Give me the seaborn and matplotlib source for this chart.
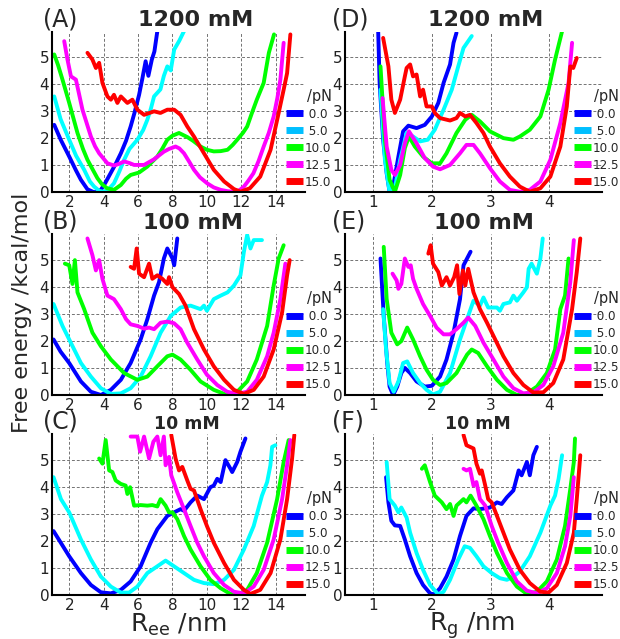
""" Free energy profiles vs end-to-end distance and radius of gyration
"""

import numpy as np
import pandas as pd
import matplotlib
matplotlib.use('Agg')
import matplotlib.pyplot as plt
from matplotlib.lines import Line2D
import seaborn as sns

# ---- data: (x, free energy), one list per force ----
forces = ['0.0', '5.0', '10.0', '12.5', '15.0']
line_colors = ['#0000ff', '#00ffff', '#00ff00', '#ff00ff', '#ff0000']
legend_colors = ['#0000ff', '#00bfff', '#00ff00', '#ff00ff', '#ff0000']
ree_ticks = [2, 4, 6, 8, 10, 12, 14]
rg_ticks = [1, 2, 3, 4]

# (A) Ree, 1200 mM
A_00 = [(1.13, 2.49), (1.5, 1.95), (2.0, 1.32), (2.4, 0.8), (2.68, 0.46), (3.06, 0.11),
        (3.45, 0.0), (3.84, 0.09), (4.1, 0.35), (4.4, 0.7), (4.7, 1.05), (5.0, 1.44),
        (5.3, 1.9), (5.57, 2.43), (5.8, 2.95), (6.06, 3.6), (6.25, 4.2), (6.44, 4.84),
        (6.6, 4.3), (6.8, 4.9), (6.95, 5.2), (7.12, 5.95)]
A_05 = [(1.13, 3.54), (1.5, 2.7), (2.0, 1.94), (2.4, 1.35), (2.87, 0.83), (3.2, 0.4),
        (3.45, 0.21), (3.75, 0.05), (4.03, 0.02), (4.3, 0.12), (4.6, 0.33), (4.9, 0.75),
        (5.19, 1.2), (5.5, 1.6), (5.96, 1.94), (6.3, 2.3), (6.54, 2.68), (6.75, 3.1),
        (6.93, 3.54), (7.3, 3.8), (7.5, 4.3), (7.7, 4.65), (7.9, 4.5), (8.1, 5.27),
        (8.4, 5.6), (8.67, 5.95)]
A_10 = [(1.13, 5.09), (1.35, 4.7), (1.61, 4.16), (2.0, 3.3), (2.48, 2.19), (2.8, 1.6),
        (3.06, 1.2), (3.4, 0.8), (3.64, 0.52), (3.9, 0.3), (4.2, 0.15), (4.6, 0.09),
        (5.0, 0.27), (5.3, 0.5), (5.57, 0.64), (6.06, 0.73), (6.54, 0.95), (7.12, 1.32),
        (7.4, 1.6), (7.7, 1.94), (8.0, 2.09), (8.38, 2.19), (8.86, 2.04), (9.2, 1.9),
        (9.63, 1.69), (10.0, 1.57), (10.4, 1.51), (10.8, 1.52), (11.2, 1.57), (11.5, 1.75),
        (11.76, 1.94), (12.1, 2.2), (12.34, 2.43), (12.6, 2.9), (12.9, 3.42), (13.3, 4.04),
        (13.45, 4.6), (13.6, 5.15), (13.9, 5.83)]
A_125 = [(1.71, 5.58), (1.9, 4.9), (2.1, 4.28), (2.39, 4.16), (2.77, 3.05), (3.26, 2.06),
         (3.5, 1.7), (3.74, 1.44), (4.22, 1.07), (4.6, 0.99), (4.9, 1.05), (5.19, 1.14),
         (5.5, 1.08), (5.77, 1.01), (6.35, 1.01), (6.93, 1.22), (7.5, 1.5), (7.8, 1.6),
         (8.18, 1.69), (8.4, 1.62), (8.67, 1.44), (9.0, 1.1), (9.25, 0.83), (9.6, 0.55),
         (10.02, 0.33), (10.4, 0.18), (10.8, 0.09), (11.2, 0.04), (11.57, 0.02), (11.9, 0.08),
         (12.15, 0.21), (12.4, 0.42), (12.7, 0.7), (13.0, 1.15), (13.3, 1.69), (13.6, 2.2),
         (13.88, 2.8), (14.1, 3.5), (14.27, 4.16), (14.46, 5.52)]
A_15 = [(3.06, 5.15), (3.35, 4.9), (3.55, 4.59), (3.74, 4.78), (3.93, 4.04), (4.22, 3.54),
        (4.42, 3.42), (4.6, 3.6), (4.8, 3.3), (5.0, 3.54), (5.38, 3.3), (5.67, 3.42),
        (5.96, 3.05), (6.35, 2.86), (6.93, 2.99), (7.3, 2.93), (7.7, 3.05), (8.1, 3.05),
        (8.47, 2.86), (8.86, 2.43), (9.25, 2.06), (9.83, 1.44), (10.4, 0.83), (11.0, 0.4),
        (11.57, 0.12), (11.95, 0.02), (12.5, 0.15), (13.1, 0.58), (13.7, 1.57), (14.17, 2.93),
        (14.46, 3.79), (14.66, 4.4), (14.85, 5.83)]

# (B) Ree, 100 mM
B_00 = [(1.09, 2.05), (1.5, 1.6), (2.0, 1.18), (2.68, 0.5), (3.26, 0.12), (3.84, 0.0),
        (4.42, 0.19), (5.0, 0.56), (5.57, 1.18), (6.15, 2.05), (6.54, 2.8), (6.93, 3.67),
        (7.22, 4.17), (7.5, 5.04), (7.7, 5.41), (8.0, 5.04), (8.1, 4.79), (8.28, 5.78)]
B_05 = [(1.09, 3.36), (1.61, 2.55), (2.0, 2.05), (2.68, 1.18), (3.26, 0.68), (3.84, 0.25),
        (4.42, 0.04), (5.0, 0.06), (5.57, 0.25), (6.15, 0.68), (6.73, 1.43), (7.31, 2.3),
        (7.9, 2.92), (8.47, 3.23), (9.05, 3.3), (9.63, 3.17), (9.83, 3.3), (10.0, 3.11),
        (10.4, 3.54), (10.8, 3.67), (11.2, 3.79), (11.57, 4.04), (11.95, 4.42), (12.15, 5.29),
        (12.34, 5.91), (12.53, 5.41), (12.72, 5.72), (13.2, 5.72)]
B_10 = [(1.75, 4.85), (2.0, 4.79), (2.19, 4.1), (2.33, 4.98), (2.48, 3.79), (2.87, 3.17),
        (3.35, 2.3), (3.84, 1.8), (4.42, 1.31), (5.19, 0.81), (5.96, 0.56), (6.54, 0.68),
        (7.12, 1.06), (7.7, 1.43), (8.0, 1.49), (8.47, 1.31), (9.05, 0.93), (9.63, 0.5),
        (10.4, 0.19), (11.18, 0.0), (11.76, 0.12), (12.34, 0.5), (12.9, 1.31), (13.5, 2.55),
        (13.88, 4.04), (14.17, 5.04), (14.46, 5.53)]
B_125 = [(3.06, 5.78), (3.35, 5.16), (3.55, 4.6), (3.74, 4.98), (3.93, 4.29), (4.22, 3.67),
         (4.6, 3.54), (5.0, 3.17), (5.3, 2.8), (5.57, 2.61), (5.96, 2.55), (6.35, 2.45),
         (6.64, 2.49), (6.93, 2.43), (7.31, 2.67), (7.7, 2.71), (8.09, 2.65), (8.47, 2.43),
         (8.86, 1.93), (9.44, 1.31), (10.0, 0.75), (10.6, 0.37), (11.18, 0.12), (11.76, 0.04),
         (12.34, 0.12), (12.9, 0.56), (13.5, 1.43), (13.88, 2.3), (14.27, 3.54), (14.56, 4.85)]
B_15 = [(5.57, 4.73), (5.77, 4.66), (5.92, 5.41), (6.06, 4.48), (6.35, 4.35), (6.64, 4.85),
        (6.83, 4.29), (7.12, 4.42), (7.41, 4.29), (7.7, 4.1), (7.8, 4.35), (8.0, 3.98),
        (8.38, 3.73), (8.76, 3.3), (9.25, 2.43), (9.83, 1.68), (10.4, 1.06), (11.0, 0.56),
        (11.57, 0.19), (12.15, 0.04), (12.72, 0.19), (13.3, 0.68), (13.88, 1.68), (14.37, 3.05),
        (14.66, 4.42), (14.81, 4.98)]

# (C) Ree, 10 mM
C_00 = [(1.09, 2.36), (2.0, 1.43), (2.68, 0.81), (3.26, 0.37), (3.84, 0.1), (4.42, 0.06),
        (5.0, 0.19), (5.57, 0.5), (6.15, 1.06), (6.73, 1.93), (7.12, 2.43), (7.7, 2.92),
        (8.09, 3.05), (8.47, 3.17), (8.67, 3.11), (9.05, 3.42), (9.44, 3.67), (9.83, 3.54),
        (10.2, 3.98), (10.4, 4.04), (10.6, 4.29), (10.8, 4.17), (11.08, 4.98), (11.37, 4.66),
        (11.47, 4.54), (11.76, 4.91), (11.95, 5.29), (12.24, 5.78)]
C_05 = [(1.09, 4.35), (1.52, 3.54), (2.0, 3.05), (2.68, 2.05), (3.26, 1.31), (3.84, 0.68),
        (4.42, 0.31), (5.0, 0.09), (5.48, 0.09), (5.96, 0.31), (6.54, 0.81), (7.12, 1.06),
        (7.6, 1.27), (8.09, 1.06), (8.67, 0.81), (9.25, 0.56), (9.83, 0.44), (10.4, 0.4),
        (11.0, 0.56), (11.57, 0.93), (12.15, 1.68), (12.72, 2.55), (13.2, 3.67), (13.5, 4.17),
        (13.69, 4.79), (13.79, 5.47), (13.98, 5.53)]
C_10 = [(3.74, 5.04), (3.93, 4.85), (4.12, 5.72), (4.32, 4.6), (4.51, 4.54), (4.7, 4.23),
        (5.0, 4.1), (5.28, 4.04), (5.38, 3.73), (5.54, 3.98), (5.77, 3.3), (6.15, 3.32),
        (6.54, 3.3), (6.83, 3.32), (7.12, 3.27), (7.31, 3.54), (7.6, 3.3), (7.8, 3.05),
        (8.0, 3.05), (8.28, 2.8), (8.67, 2.18), (9.05, 1.68), (9.63, 1.06), (10.2, 0.56),
        (10.8, 0.25), (11.37, 0.04), (11.95, 0.06), (12.34, 0.19), (12.9, 0.81), (13.5, 1.93),
        (14.08, 3.54), (14.46, 4.91), (14.75, 5.72)]
C_125 = [(5.57, 5.85), (5.96, 5.85), (6.12, 5.29), (6.35, 5.85), (6.64, 5.04), (6.89, 5.66),
         (7.12, 5.85), (7.31, 5.16), (7.5, 5.85), (7.6, 4.79), (7.8, 5.1), (7.93, 4.42),
         (8.28, 3.79), (8.67, 3.17), (9.05, 2.55), (9.44, 1.93), (9.83, 1.43), (10.4, 0.81),
         (11.0, 0.37), (11.57, 0.12), (12.15, 0.06), (12.72, 0.31), (13.3, 0.93), (13.88, 2.05),
         (14.37, 3.54), (14.66, 4.79), (14.85, 5.72)]
C_15 = [(7.93, 5.91), (8.18, 5.04), (8.38, 4.6), (8.57, 4.73), (8.86, 4.23), (9.05, 3.92),
        (9.25, 3.86), (9.63, 3.17), (10.0, 2.55), (10.4, 1.93), (11.0, 1.18), (11.57, 0.56),
        (12.15, 0.19), (12.53, 0.04), (13.1, 0.19), (13.7, 0.81), (14.27, 2.05), (14.66, 3.54),
        (14.95, 5.04), (15.08, 5.91)]

# (D) Rg, 1200 mM
D_00 = [(1.085, 6.0), (1.11, 4.04), (1.17, 1.94), (1.23, 0.7), (1.28, 0.02), (1.34, 0.21),
        (1.43, 1.32), (1.51, 2.25), (1.6, 2.46), (1.74, 2.37), (1.88, 2.49), (2.0, 2.8),
        (2.11, 3.3), (2.2, 4.04), (2.31, 4.72), (2.37, 5.52), (2.42, 5.89)]
D_05 = [(1.125, 3.79), (1.2, 1.2), (1.28, 0.0), (1.37, 0.15), (1.46, 1.2), (1.57, 2.19),
        (1.68, 2.06), (1.8, 1.88), (1.93, 1.94), (2.05, 2.31), (2.2, 3.05), (2.34, 3.79),
        (2.45, 4.65), (2.54, 5.33), (2.68, 5.77)]
D_10 = [(1.125, 4.65), (1.2, 1.94), (1.28, 0.46), (1.37, 0.02), (1.46, 0.64), (1.54, 1.63),
        (1.61, 2.06), (1.71, 1.69), (1.85, 1.32), (2.0, 1.07), (2.14, 1.07), (2.25, 1.44),
        (2.42, 2.19), (2.57, 2.68), (2.68, 2.86), (2.82, 2.62), (2.99, 2.25), (3.22, 2.0),
        (3.39, 1.94), (3.5, 2.06), (3.67, 2.31), (3.85, 2.8), (3.99, 3.79), (4.1, 4.9),
        (4.22, 5.95)]
D_125 = [(1.16, 3.48), (1.23, 1.69), (1.31, 0.83), (1.37, 0.64), (1.46, 1.01), (1.54, 1.81),
         (1.61, 2.25), (1.74, 1.81), (1.88, 1.26), (2.02, 0.95), (2.14, 0.85), (2.31, 1.01),
         (2.48, 1.44), (2.59, 1.75), (2.71, 1.75), (2.82, 1.44), (2.99, 0.89), (3.16, 0.4),
         (3.33, 0.09), (3.5, 0.02), (3.67, 0.09), (3.85, 0.4), (4.02, 1.2), (4.19, 2.56),
         (4.33, 4.04), (4.39, 5.52)]
D_15 = [(1.17, 5.7), (1.26, 4.65), (1.31, 3.42), (1.37, 2.93), (1.46, 3.42), (1.54, 4.28),
        (1.57, 4.59), (1.63, 4.72), (1.68, 4.28), (1.74, 4.35), (1.8, 3.54), (1.85, 3.79),
        (1.91, 3.17), (2.0, 3.17), (2.05, 2.93), (2.14, 2.74), (2.31, 2.65), (2.42, 2.74),
        (2.48, 2.93), (2.57, 2.8), (2.65, 2.86), (2.76, 2.56), (2.88, 2.19), (2.99, 1.69),
        (3.16, 1.07), (3.33, 0.58), (3.5, 0.21), (3.67, 0.02), (3.85, 0.15), (4.02, 0.58),
        (4.19, 1.69), (4.3, 3.17), (4.36, 4.65), (4.41, 4.59), (4.47, 4.96)]

# (E) Rg, 100 mM
E_00 = [(1.125, 5.04), (1.18, 2.92), (1.24, 1.18), (1.28, 0.31), (1.34, 0.0), (1.41, 0.31),
        (1.48, 0.81), (1.54, 1.0), (1.63, 0.81), (1.74, 0.5), (1.88, 0.31), (2.0, 0.34),
        (2.14, 0.68), (2.25, 1.31), (2.37, 2.3), (2.48, 3.54), (2.54, 4.79), (2.6, 5.04),
        (2.66, 5.29)]
E_05 = [(1.17, 3.17), (1.22, 1.68), (1.28, 0.44), (1.35, 0.12), (1.43, 0.5), (1.51, 1.18),
        (1.58, 1.24), (1.68, 0.81), (1.8, 0.44), (1.91, 0.19), (2.02, 0.02), (2.14, 0.12),
        (2.31, 0.81), (2.48, 2.05), (2.6, 2.8), (2.71, 3.48), (2.82, 3.3), (2.88, 3.6),
        (2.96, 3.23), (3.11, 3.23), (3.16, 3.11), (3.22, 3.36), (3.33, 3.42), (3.39, 3.67),
        (3.45, 3.48), (3.56, 3.79), (3.62, 3.98), (3.65, 4.66), (3.7, 4.85), (3.79, 4.48),
        (3.85, 5.04), (3.89, 5.78)]
E_10 = [(1.18, 5.47), (1.23, 3.54), (1.31, 2.3), (1.41, 1.87), (1.48, 1.99), (1.58, 2.49),
        (1.68, 2.05), (1.8, 1.43), (1.91, 0.93), (2.02, 0.56), (2.14, 0.37), (2.25, 0.44),
        (2.42, 0.81), (2.6, 1.49), (2.68, 1.68), (2.79, 1.55), (2.94, 1.06), (3.11, 0.56),
        (3.28, 0.19), (3.45, 0.0), (3.62, 0.06), (3.79, 0.31), (3.96, 0.81), (4.1, 1.68),
        (4.19, 3.17), (4.27, 3.67), (4.33, 5.04)]
E_125 = [(1.33, 4.48), (1.4, 4.23), (1.43, 3.92), (1.48, 4.1), (1.54, 5.04), (1.6, 4.73),
         (1.64, 4.79), (1.68, 4.29), (1.74, 3.92), (1.85, 3.36), (1.97, 2.92), (2.08, 2.49),
         (2.2, 2.24), (2.31, 2.24), (2.42, 2.43), (2.54, 2.67), (2.62, 2.86), (2.74, 2.55),
         (2.88, 1.93), (3.05, 1.31), (3.22, 0.68), (3.39, 0.25), (3.56, 0.06), (3.73, 0.09),
         (3.9, 0.37), (4.07, 1.06), (4.24, 2.3), (4.36, 4.17), (4.42, 5.72)]
E_15 = [(1.94, 5.22), (1.98, 5.53), (2.02, 4.85), (2.11, 4.54), (2.17, 4.04), (2.25, 4.35),
        (2.31, 4.04), (2.38, 4.35), (2.43, 4.79), (2.47, 3.73), (2.53, 4.6), (2.57, 4.04),
        (2.62, 4.66), (2.71, 3.79), (2.82, 3.17), (2.94, 2.67), (3.08, 2.05), (3.22, 1.43),
        (3.39, 0.81), (3.56, 0.37), (3.73, 0.09), (3.9, 0.1), (4.07, 0.44), (4.24, 1.31),
        (4.39, 3.17), (4.47, 4.54), (4.53, 5.78)]

# (F) Rg, 10 mM
F_00 = [(1.22, 4.35), (1.26, 3.42), (1.31, 2.74), (1.37, 2.57), (1.46, 2.55), (1.54, 2.05),
        (1.63, 1.43), (1.74, 0.81), (1.85, 0.37), (1.97, 0.06), (2.04, 0.02), (2.14, 0.25),
        (2.25, 0.68), (2.37, 1.31), (2.48, 2.18), (2.59, 2.92), (2.71, 3.2), (2.82, 3.17),
        (2.99, 3.23), (3.11, 3.42), (3.19, 3.36), (3.28, 3.61), (3.39, 3.86), (3.48, 4.6),
        (3.53, 4.42), (3.62, 4.91), (3.67, 4.42), (3.73, 5.16), (3.79, 5.47)]
F_05 = [(1.23, 4.91), (1.28, 3.54), (1.37, 3.3), (1.43, 3.05), (1.48, 3.23), (1.57, 2.86),
        (1.63, 2.3), (1.74, 1.55), (1.85, 0.93), (1.97, 0.37), (2.11, 0.02), (2.2, 0.12),
        (2.31, 0.56), (2.45, 1.31), (2.56, 1.8), (2.65, 1.74), (2.76, 1.43), (2.88, 1.06),
        (3.02, 0.81), (3.16, 0.62), (3.28, 0.56), (3.39, 0.68), (3.5, 0.87), (3.67, 1.43),
        (3.85, 2.3), (4.02, 3.3), (4.1, 3.67), (4.16, 4.29), (4.22, 5.16)]
F_10 = [(1.83, 4.66), (1.88, 4.79), (1.97, 4.17), (2.05, 3.67), (2.17, 3.42), (2.25, 3.17),
        (2.31, 3.36), (2.37, 2.92), (2.42, 3.3), (2.54, 3.54), (2.59, 3.42), (2.66, 3.67),
        (2.76, 3.3), (2.88, 2.8), (2.99, 2.18), (3.11, 1.55), (3.28, 0.81), (3.45, 0.31),
        (3.62, 0.04), (3.79, 0.12), (3.96, 0.5), (4.13, 1.31), (4.27, 2.55), (4.36, 3.92),
        (4.42, 4.91), (4.44, 5.78)]
F_125 = [(2.54, 4.66), (2.59, 4.6), (2.65, 4.66), (2.71, 4.04), (2.76, 4.17), (2.82, 3.54),
         (2.91, 3.3), (3.02, 2.55), (3.13, 1.93), (3.28, 1.18), (3.45, 0.5), (3.62, 0.16),
         (3.79, 0.06), (3.96, 0.25), (4.13, 0.81), (4.27, 1.8), (4.36, 2.92), (4.42, 4.35)]
F_15 = [(2.54, 5.91), (2.59, 5.53), (2.65, 5.47), (2.71, 5.41), (2.76, 4.85), (2.82, 4.48),
        (2.85, 4.6), (2.91, 4.04), (2.96, 3.54), (3.02, 3.42), (3.11, 2.92), (3.22, 2.3),
        (3.33, 1.68), (3.5, 0.93), (3.67, 0.44), (3.85, 0.12), (3.99, 0.09), (4.13, 0.37),
        (4.3, 1.18), (4.42, 2.3), (4.47, 3.54), (4.53, 5.16)]

panels = {
    'A': ([A_00, A_05, A_10, A_125, A_15], '1200 mM'),
    'B': ([B_00, B_05, B_10, B_125, B_15], '100 mM'),
    'C': ([C_00, C_05, C_10, C_125, C_15], '10 mM'),
    'D': ([D_00, D_05, D_10, D_125, D_15], '1200 mM'),
    'E': ([E_00, E_05, E_10, E_125, E_15], '100 mM'),
    'F': ([F_00, F_05, F_10, F_125, F_15], '10 mM'),
}


def to_frame(curves):
    rows = []
    for f, pts in zip(forces, curves):
        for x, y in pts:
            rows.append({'x': x, 'F': y, 'force': f})
    return pd.DataFrame(rows)


if __name__ == '__main__':

    sns.set_style('white')
    plt.rcParams['font.family'] = ['DejaVu Sans']

    fig = plt.figure(figsize=(6.2, 6.39), dpi=100)

    W, H = 620., 639.
    lefts = [52 / W, 345 / W]
    widths = [253 / W, 257 / W]
    bottoms = [1 - 192.3 / H, 1 - 395 / H, 1 - 595 / H]
    height = 160.6 / H

    layout = {'A': (0, 0), 'B': (0, 1), 'C': (0, 2),
              'D': (1, 0), 'E': (1, 1), 'F': (1, 2)}
    # title centre (axes frac) and size
    title_x = {'A': 0.569, 'B': 0.557, 'C': 0.534,
               'D': 0.549, 'E': 0.541, 'F': 0.517}
    title_fs = {'A': 16, 'B': 16, 'C': 12.5, 'D': 16, 'E': 16, 'F': 12.5}

    pal = dict(zip(forces, line_colors))

    for key, (curves, conc) in panels.items():
        col, row = layout[key]
        ax = fig.add_axes([lefts[col], bottoms[row], widths[col], height])
        df = to_frame(curves)
        sns.lineplot(data=df, x='x', y='F', hue='force', palette=pal,
                     hue_order=forces, sort=False, estimator=None,
                     lw=2.8, legend=False, ax=ax)

        xt = ree_ticks if col == 0 else rg_ticks
        ax.set_xticks(xt)
        if col == 0:
            ax.set_xlim(1, 15.7)
        else:
            ax.set_xlim(0.52, 4.9)
        ax.set_yticks([0, 1, 2, 3, 4, 5])
        ax.set_ylim(0, 5.93)
        ax.set_xlabel('')
        ax.set_ylabel('')
        ax.grid(True, ls=(0, (3, 2)), color='0.45', lw=0.7)
        for s in ['top', 'right']:
            ax.spines[s].set_visible(False)
        for s in ['left', 'bottom']:
            ax.spines[s].set_color('black')
            ax.spines[s].set_linewidth(1.5)
        ax.tick_params(length=0, pad=2, labelsize=11, labelcolor='#222222',
                       labelbottom=False)
        # x tick labels as figure-level text, drawn above every axes
        for v in xt:
            fig.text(v, -0.018, str(v), transform=ax.get_xaxis_transform(),
                     fontsize=11, color='#222222', ha='center', va='top',
                     zorder=20, clip_on=False)

        lx = -0.036 if col == 0 else -0.05
        ax.text(lx, 1.035, '(%s)' % key, transform=ax.transAxes,
                fontsize=17, va='baseline')
        ax.text(title_x[key], 1.035, conc, transform=ax.transAxes,
                fontsize=title_fs[key], fontweight='bold',
                va='baseline', ha='center')

        handles = [Line2D([], [], color=c, lw=5, solid_capstyle='butt')
                   for c in legend_colors]
        labels = [' 0.0', ' 5.0', '10.0', '12.5', '15.0']
        bx = 0.925 if col == 0 else 0.89
        leg = ax.legend(handles, labels, title='/pN', loc='upper left',
                        bbox_to_anchor=(bx, 0.645), frameon=False,
                        prop={'size': 9.5, 'stretch': 'condensed'},
                        title_fontsize=10.5,
                        handlelength=1.3, handletextpad=0.15,
                        labelspacing=0.3, borderpad=0, borderaxespad=0)
        leg._legend_box.align = 'right'

        if key == 'C':
            ax.text(0.5, -0.228, r'R$_{\mathrm{ee}}$ /nm', transform=ax.transAxes,
                    fontsize=18, ha='center', va='baseline')
        if key == 'F':
            ax.text(0.494, -0.22, r'R$_{\mathrm{g}}$ /nm', transform=ax.transAxes,
                    fontsize=18, ha='center', va='baseline')

    fig.text(0.035, 0.51, 'Free energy /kcal/mol', rotation=90,
             fontsize=16, ha='center', va='center')

    plt.savefig('out.png', dpi=100)
